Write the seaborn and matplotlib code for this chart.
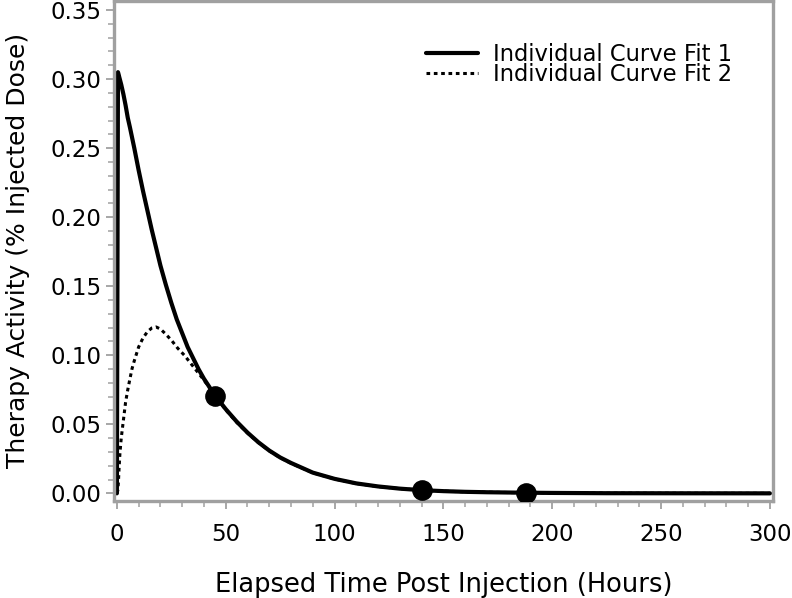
import pandas as pd
import matplotlib.pyplot as plt
import seaborn as sns

# ── Data ──────────────────────────────────────────────────────────────────────
fit1_hours = [0, 0.5, 1, 2, 3, 4, 5, 6, 8, 10, 12, 14, 16, 18, 20, 22.5, 25,
              27.5, 30, 32.5, 35, 37.5, 40, 42.5, 45, 50, 55, 60, 65, 70, 75,
              80, 90, 100, 110, 120, 130, 140, 150, 160, 170, 185, 200, 225,
              260, 300]
fit1_dose = [0.0, 0.305, 0.302, 0.296, 0.289, 0.281, 0.272, 0.265, 0.250,
             0.234, 0.219, 0.205, 0.191, 0.178, 0.165, 0.151, 0.138, 0.126,
             0.116, 0.106, 0.098, 0.090, 0.083, 0.077, 0.071, 0.061, 0.052,
             0.044, 0.037, 0.031, 0.026, 0.022, 0.015, 0.0105, 0.0072, 0.0050,
             0.0034, 0.0023, 0.0016, 0.0011, 0.0008, 0.0005, 0.0003, 0.0001,
             0.00004, 0.0]

fit2_hours = [0, 0.4, 0.7, 1.0, 1.4, 2, 3, 4, 5, 6, 7, 8, 9, 10, 12, 14, 16,
              18, 20, 22, 25, 28, 31, 34, 37, 40, 42.5, 45, 50, 55, 60, 65,
              70, 75, 80, 90, 100, 110, 120, 130, 140, 150, 160, 170, 185,
              200, 225, 260, 300]
fit2_dose = [0.0, 0.002, 0.008, 0.018, 0.029, 0.040, 0.053, 0.066, 0.075,
             0.083, 0.0905, 0.096, 0.101, 0.106, 0.1125, 0.117, 0.1197,
             0.1205, 0.119, 0.116, 0.111, 0.105, 0.100, 0.094, 0.088, 0.082,
             0.0765, 0.071, 0.0605, 0.0515, 0.0437, 0.0368, 0.0308, 0.0258,
             0.0218, 0.0149, 0.0104, 0.0071, 0.0049, 0.0034, 0.0023, 0.0016,
             0.0011, 0.0008, 0.0005, 0.0003, 0.0001, 0.00004, 0.0]

obs_hours = [45, 140, 188]
obs_dose = [0.0705, 0.0022, 0.0006]

x_ticks = [0, 50, 100, 150, 200, 250, 300]
y_ticks = [0.00, 0.05, 0.10, 0.15, 0.20, 0.25, 0.30, 0.35]

fit1 = pd.DataFrame({"hours": fit1_hours, "dose": fit1_dose})
fit2 = pd.DataFrame({"hours": fit2_hours, "dose": fit2_dose})
obs = pd.DataFrame({"hours": obs_hours, "dose": obs_dose})

# ── Style ─────────────────────────────────────────────────────────────────────
sns.set_theme(style="white")
plt.rcParams["font.family"] = ["DejaVu Sans"]
plt.rcParams["text.color"] = "black"
plt.rcParams["axes.labelcolor"] = "black"
plt.rcParams["xtick.labelcolor"] = "black"
plt.rcParams["ytick.labelcolor"] = "black"
frame_grey = "#a0a0a0"

fig = plt.figure(figsize=(7.92, 5.98), dpi=100)
ax = fig.add_axes([0.144, 0.163, 0.832, 0.835])

sns.lineplot(data=fit1, x="hours", y="dose", ax=ax, color="black",
             linewidth=3.0, label="Individual Curve Fit 1", sort=False)
sns.lineplot(data=fit2, x="hours", y="dose", ax=ax, color="black",
             linewidth=2.2, linestyle=(0, (1.2, 1.2)),
             label="Individual Curve Fit 2", sort=False)
sns.scatterplot(data=obs, x="hours", y="dose", ax=ax, color="black",
                s=190, edgecolor="black", zorder=5, legend=False)

ax.set_xlim(-1.3, 301.4)
ax.set_ylim(-0.0052, 0.3564)
ax.set_xticks(x_ticks)
ax.set_xticklabels([str(v) for v in x_ticks])
ax.set_yticks(y_ticks)
ax.set_yticklabels([f"{v:.2f}" for v in y_ticks])
ax.set_xticks(range(0, 301, 10), minor=True)
ax.set_yticks([i / 100 for i in range(0, 36)], minor=True)

ax.tick_params(axis="both", which="major", direction="out", length=6,
               width=1.3, color=frame_grey, labelcolor="black",
               labelsize=16.5, pad=3, bottom=True, left=True)
ax.tick_params(axis="both", which="minor", direction="out", length=4,
               width=1.1, color=frame_grey, bottom=True, left=True)
ax.tick_params(axis="x", which="major", pad=10)

for spine in ax.spines.values():
    spine.set_color(frame_grey)
    spine.set_linewidth(2.4)

ax.set_xlabel("Elapsed Time Post Injection (Hours)", fontsize=18.5,
              labelpad=19, color="black")
ax.set_ylabel("Therapy Activity (% Injected Dose)", fontsize=18,
              labelpad=15, color="black")

leg = ax.legend(loc="upper right", frameon=False, fontsize=16.3,
                handlelength=2.3, handletextpad=0.65, labelspacing=-0.1,
                borderaxespad=0.0, borderpad=0.0,
                bbox_to_anchor=(0.938, 0.917))
for txt in leg.get_texts():
    txt.set_color("black")

fig.savefig("out.png", dpi=100)
